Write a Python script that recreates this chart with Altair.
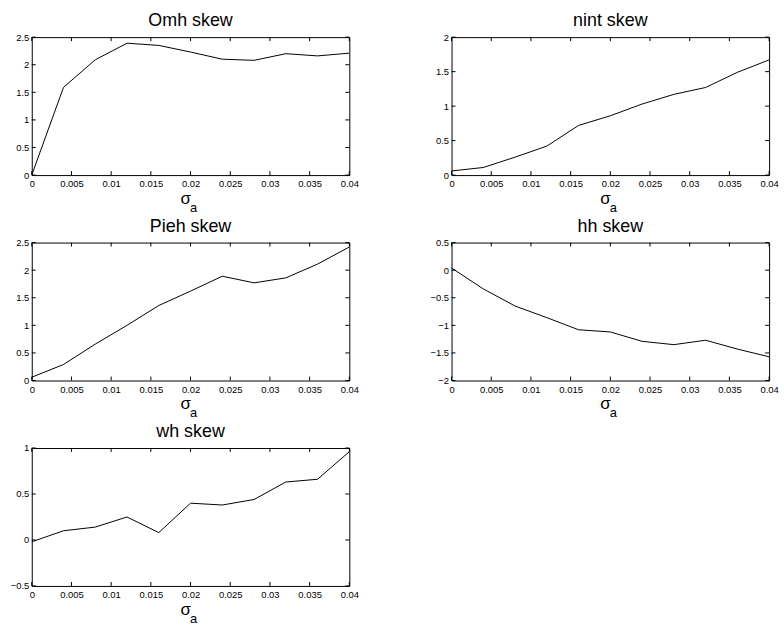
import altair as alt
import pandas as pd

# ---- data ----
sigma = [0, 0.004, 0.008, 0.012, 0.016, 0.02, 0.024, 0.028, 0.032, 0.036, 0.04]
omh = [0.0, 1.59, 2.09, 2.39, 2.35, 2.23, 2.10, 2.08, 2.20, 2.16, 2.21]
nint = [0.06, 0.11, 0.26, 0.42, 0.72, 0.86, 1.03, 1.17, 1.27, 1.49, 1.67]
pieh = [0.06, 0.29, 0.66, 1.00, 1.36, 1.62, 1.89, 1.77, 1.86, 2.11, 2.42]
hh = [0.04, -0.34, -0.65, -0.86, -1.08, -1.12, -1.29, -1.35, -1.27, -1.43, -1.57]
wh = [-0.02, 0.10, 0.14, 0.25, 0.08, 0.40, 0.38, 0.44, 0.63, 0.66, 0.96]

x_ticks = [0, 0.005, 0.01, 0.015, 0.02, 0.025, 0.03, 0.035, 0.04]
omh_ticks = [0, 0.5, 1, 1.5, 2, 2.5]
nint_ticks = [0, 0.5, 1, 1.5, 2]
pieh_ticks = [0, 0.5, 1, 1.5, 2, 2.5]
hh_ticks = [-2, -1.5, -1, -0.5, 0, 0.5]
wh_ticks = [-0.5, 0, 0.5, 1]

titles = ["Omh skew", "nint skew", "Pieh skew", "hh skew", "wh skew"]
xlabel_main = "σ"
xlabel_sub = "a"

W, H = 320, 139
TICK = 4
FONT = "Liberation Sans"


def panel(title, values, ydomain, yticks):
    df = pd.DataFrame({"s": sigma, "v": values})
    xs = alt.Scale(domain=[0, 0.04], nice=False, zero=False)
    ys = alt.Scale(domain=ydomain, nice=False, zero=False)
    common_axis = dict(format="~g", ticks=False, domain=False,
                       grid=False, labelFontSize=9.5, labelColor="black",
                       labelFont=FONT, labelFlush=False, labelOverlap=False)
    xax = alt.Axis(values=x_ticks, labelPadding=4, **common_axis)
    yax = alt.Axis(values=yticks, labelPadding=3, **common_axis)
    line = alt.Chart(df).mark_line(color="black", strokeWidth=1, clip=True).encode(
        x=alt.X("s:Q", title="", scale=xs, axis=xax),
        y=alt.Y("v:Q", title="", scale=ys, axis=yax),
    )
    xt = pd.DataFrame({"t": x_ticks})
    yt = pd.DataFrame({"t": yticks})
    rule = dict(color="black", strokeWidth=1)
    xb = alt.Chart(xt).mark_rule(**rule).encode(
        x=alt.X("t:Q", title="", scale=xs, axis=xax), y=alt.value(H), y2=alt.value(H - TICK))
    xtop = alt.Chart(xt).mark_rule(**rule).encode(
        x=alt.X("t:Q", title="", scale=xs, axis=xax), y=alt.value(0), y2=alt.value(TICK))
    yl = alt.Chart(yt).mark_rule(**rule).encode(
        y=alt.Y("t:Q", title="", scale=ys, axis=yax), x=alt.value(0), x2=alt.value(TICK))
    yr = alt.Chart(yt).mark_rule(**rule).encode(
        y=alt.Y("t:Q", title="", scale=ys, axis=yax), x=alt.value(W), x2=alt.value(W - TICK))
    s_txt = alt.Chart(pd.DataFrame({"lab": [xlabel_main]})).mark_text(
        font=FONT, fontSize=17, color="black", align="center", baseline="alphabetic"
    ).encode(text="lab:N", x=alt.value(W / 2 - 5), y=alt.value(H + 29))
    a_txt = alt.Chart(pd.DataFrame({"lab": [xlabel_sub]})).mark_text(
        font=FONT, fontSize=13, color="black", align="center", baseline="alphabetic"
    ).encode(text="lab:N", x=alt.value(W / 2 + 3), y=alt.value(H + 37))
    return alt.layer(line, xb, xtop, yl, yr, s_txt, a_txt).properties(
        width=W, height=H,
        title=alt.Title(title, font=FONT, fontSize=18, fontWeight="normal",
                        color="black", offset=2, anchor="middle"),
    )


p1 = panel(titles[0], omh, [0, 2.5], omh_ticks)
p2 = panel(titles[1], nint, [0, 2], nint_ticks)
p3 = panel(titles[2], pieh, [0, 2.5], pieh_ticks)
p4 = panel(titles[3], hh, [-2, 0.5], hh_ticks)
p5 = panel(titles[4], wh, [-0.5, 1], wh_ticks)

chart = alt.concat(p1, p2, p3, p4, p5, columns=2,
                   spacing={"row": 68, "column": 103}, bounds="flush").properties(
    padding={"left": 9, "top": 9, "right": 5, "bottom": 5},
    background="white",
).configure_view(stroke="black", strokeWidth=1)

chart.save("out.html", embed_options={"renderer": "svg", "actions": False})
